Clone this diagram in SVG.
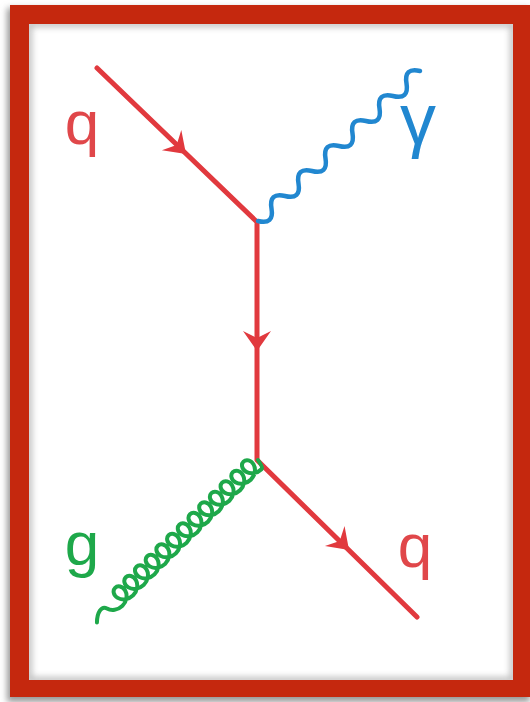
<svg xmlns="http://www.w3.org/2000/svg" width="530" height="702" viewBox="0 0 530 702">
  <defs>
    <style>
      .quark { fill: none; stroke: #e1393e; stroke-width: 5; stroke-linecap: round; stroke-linejoin: round; }
      .photon { fill: none; stroke: #2187d0; stroke-width: 4.5; stroke-linecap: round; stroke-linejoin: round; }
      .gluon { fill: none; stroke: #1ea84a; stroke-width: 4; stroke-linecap: round; stroke-linejoin: round; }
      .arrow { fill: #e1393e; }
      .lbl { font-family: "Liberation Sans", Arial, sans-serif; font-size: 62px; text-anchor: middle; }
    </style>
    <path id="ah" d="M0,0 L-20,-14 L-13,0 L-20,14 Z"/>
    <path id="loop" d=""/>
    <filter id="blur" x="-10%" y="-10%" width="120%" height="120%">
      <feGaussianBlur stdDeviation="3"/>
    </filter>
    <clipPath id="inner"><rect x="29" y="24" width="484" height="656"/></clipPath>
  </defs>

  <rect x="0" y="0" width="530" height="702" fill="#ffffff"/>
  <g id="frame">
    <rect x="7" y="8" width="523" height="694" fill="#9a9a9a" filter="url(#blur)"/>
    <rect x="10" y="5" width="520" height="692" fill="#c5280e"/>
    <rect x="29" y="24" width="484" height="656" fill="#ffffff"/>
    <g clip-path="url(#inner)">
      <rect x="29" y="24" width="484" height="656" fill="none" stroke="#bdbdbd" stroke-width="6" filter="url(#blur)"/>
    </g>
  </g>

  <g id="connectors">
    <path id="quark-line" class="quark" d="M97,68 L257,222 L257,460 L417,617"/>
    <g id="photon" transform="translate(258,221) rotate(-42.8)">
      <path class="photon" d="M0,0 c6.13,9.3 12.27,9.3 18.4,0 c6.13,-9.3 12.27,-9.3 18.4,0 c6.13,9.3 12.27,9.3 18.4,0 c6.13,-9.3 12.27,-9.3 18.4,0 c6.13,9.3 12.27,9.3 18.4,0 c6.13,-9.3 12.27,-9.3 18.4,0 c6.13,9.3 12.27,9.3 18.4,0 c6.13,-9.3 12.27,-9.3 18.4,0 c6.13,9.3 12.27,9.3 18.4,0 c6.13,-9.3 12.27,-9.3 18.4,0 c6.13,9.3 12.27,9.3 18.4,0 c6.13,-9.3 12.27,-9.3 18.4,0"/>
    </g>
    <g id="gluon" transform="translate(258,460) rotate(135.5)">
      <path class="gluon" d="M0,0 c1,-5 2,-9 4,-9
        c6.26,0 11.44,4.05 12.75,9 c1.31,4.95 -1.61,9 -5.25,9 c-3.64,0 -6.56,-4.05 -5.25,-9 c1.31,-4.95 6.49,-9 12.75,-9
        c6.26,0 11.44,4.05 12.75,9 c1.31,4.95 -1.61,9 -5.25,9 c-3.64,0 -6.56,-4.05 -5.25,-9 c1.31,-4.95 6.49,-9 12.75,-9
        c6.26,0 11.44,4.05 12.75,9 c1.31,4.95 -1.61,9 -5.25,9 c-3.64,0 -6.56,-4.05 -5.25,-9 c1.31,-4.95 6.49,-9 12.75,-9
        c6.26,0 11.44,4.05 12.75,9 c1.31,4.95 -1.61,9 -5.25,9 c-3.64,0 -6.56,-4.05 -5.25,-9 c1.31,-4.95 6.49,-9 12.75,-9
        c6.26,0 11.44,4.05 12.75,9 c1.31,4.95 -1.61,9 -5.25,9 c-3.64,0 -6.56,-4.05 -5.25,-9 c1.31,-4.95 6.49,-9 12.75,-9
        c6.26,0 11.44,4.05 12.75,9 c1.31,4.95 -1.61,9 -5.25,9 c-3.64,0 -6.56,-4.05 -5.25,-9 c1.31,-4.95 6.49,-9 12.75,-9
        c6.26,0 11.44,4.05 12.75,9 c1.31,4.95 -1.61,9 -5.25,9 c-3.64,0 -6.56,-4.05 -5.25,-9 c1.31,-4.95 6.49,-9 12.75,-9
        c6.26,0 11.44,4.05 12.75,9 c1.31,4.95 -1.61,9 -5.25,9 c-3.64,0 -6.56,-4.05 -5.25,-9 c1.31,-4.95 6.49,-9 12.75,-9
        c6.26,0 11.44,4.05 12.75,9 c1.31,4.95 -1.61,9 -5.25,9 c-3.64,0 -6.56,-4.05 -5.25,-9 c1.31,-4.95 6.49,-9 12.75,-9
        c6.26,0 11.44,4.05 12.75,9 c1.31,4.95 -1.61,9 -5.25,9 c-3.64,0 -6.56,-4.05 -5.25,-9 c1.31,-4.95 6.49,-9 12.75,-9
        c6.26,0 11.44,4.05 12.75,9 c1.31,4.95 -1.61,9 -5.25,9 c-3.64,0 -6.56,-4.05 -5.25,-9 c1.31,-4.95 6.49,-9 12.75,-9
        c6.26,0 11.44,4.05 12.75,9 c1.31,4.95 -1.61,9 -5.25,9 c-3.64,0 -6.56,-4.05 -5.25,-9 c1.31,-4.95 6.49,-9 12.75,-9
        c6.26,0 11.44,4.05 12.75,9 c1.31,4.95 -1.61,9 -5.25,9 c-3.64,0 -6.56,-4.05 -5.25,-9 c1.31,-4.95 6.49,-9 12.75,-9
        c6.26,0 11.44,4.05 12.75,9 c2,6 10,4 17,-3"/>
    </g>
    <use href="#ah" class="arrow" transform="translate(186,154) rotate(43.9)"/>
    <use href="#ah" class="arrow" transform="translate(257,351) rotate(90)"/>
    <use href="#ah" class="arrow" transform="translate(349,550) rotate(44.5)"/>
  </g>

  <g id="label-q-in"><text class="lbl" x="82" y="144" fill="#e0474a">q</text></g>
  <g id="label-gamma"><text class="lbl" x="418" y="144" fill="#2187d0" style="font-size:72px">γ</text></g>
  <g id="label-g"><text class="lbl" x="82" y="565" fill="#1ea84a">g</text></g>
  <g id="label-q-out"><text class="lbl" x="415" y="567" fill="#e0474a">q</text></g>
</svg>
